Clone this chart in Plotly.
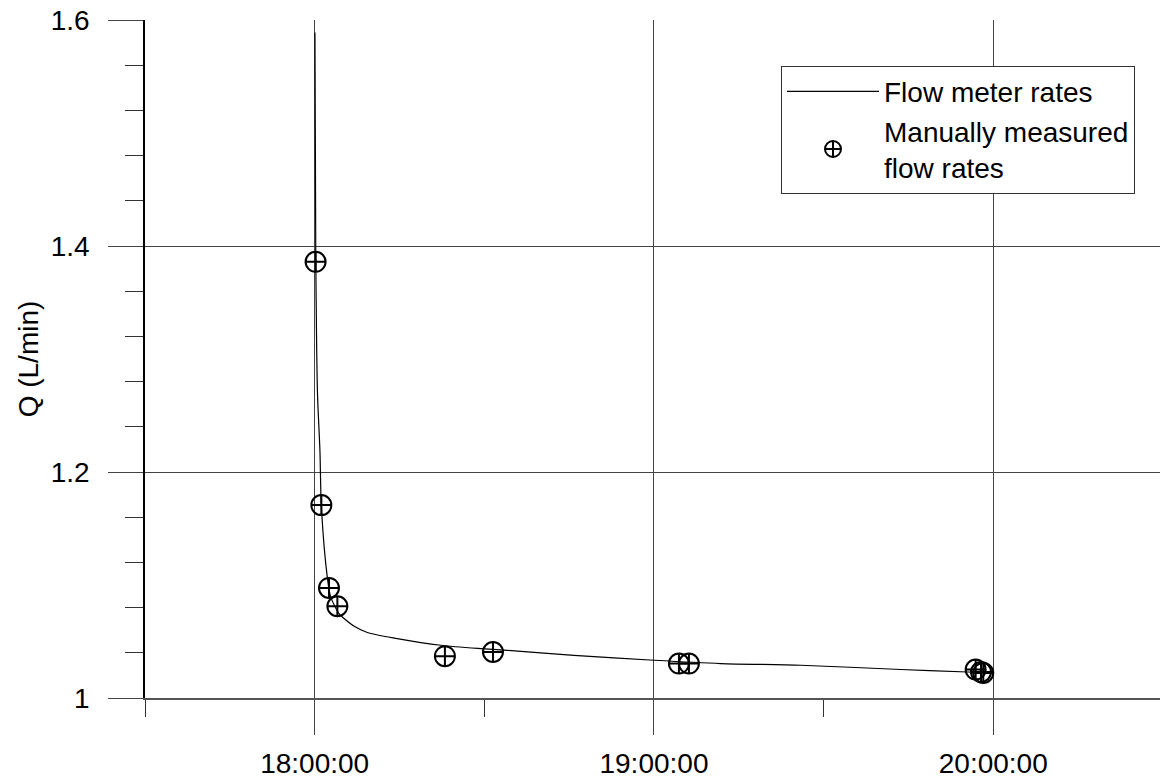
import plotly.graph_objects as go

# Flow meter readings (time, Q in L/min)
meter_time = [
    "2000-01-01 18:00:03", "2000-01-01 18:00:12", "2000-01-01 18:00:30",
    "2000-01-01 18:00:56", "2000-01-01 18:01:11", "2000-01-01 18:02:14",
    "2000-01-01 18:02:50", "2000-01-01 18:04:18", "2000-01-01 18:04:54",
    "2000-01-01 18:07:00", "2000-01-01 18:09:19", "2000-01-01 18:14:37",
    "2000-01-01 18:22:17", "2000-01-01 18:29:21", "2000-01-01 18:34:05",
    "2000-01-01 18:45:51", "2000-01-01 19:00:00", "2000-01-01 19:11:48",
    "2000-01-01 19:25:56", "2000-01-01 19:43:38", "2000-01-01 19:55:25",
    "2000-01-01 19:59:32",
]
meter_q = [
    1.589, 1.39, 1.27,
    1.219, 1.17, 1.107,
    1.0895, 1.0747, 1.0717,
    1.0635, 1.058, 1.0526,
    1.0467, 1.0437, 1.0422,
    1.0378, 1.0334, 1.0305,
    1.029, 1.0252, 1.023,
    1.0225,
]

# Manually measured flow rates
manual_time = [
    "2000-01-01 18:00:10", "2000-01-01 18:01:11", "2000-01-01 18:02:32",
    "2000-01-01 18:04:01", "2000-01-01 18:23:02", "2000-01-01 18:31:32",
    "2000-01-01 19:04:25", "2000-01-01 19:06:11", "2000-01-01 19:56:53",
    "2000-01-01 19:57:50", "2000-01-01 19:58:14",
]
manual_q = [
    1.386, 1.1707, 1.0974,
    1.0812, 1.037, 1.0407,
    1.0305, 1.0305, 1.0252,
    1.023, 1.0222,
]

x_range = ["2000-01-01 17:30:00", "2000-01-01 20:29:29"]
x_tick0 = "2000-01-01 18:00:00"
x_major_step_ms = 3600000
x_minor_step_ms = 1800000
y_range = [1.0, 1.6]
y_major_step = 0.2
y_minor_step = 0.04

FONT = "Liberation Sans, Arial, sans-serif"
GRID = "#444444"

fig = go.Figure()
fig.add_trace(go.Scatter(
    x=meter_time, y=meter_q, mode="lines", name="Flow meter rates",
    line=dict(color="black", width=1.2, shape="spline", smoothing=0.8),
))
fig.add_trace(go.Scatter(
    x=manual_time, y=manual_q, mode="markers",
    name="Manually measured<br>flow rates",
    marker=dict(symbol="circle-cross-open", size=20, color="black",
                line=dict(width=2, color="black")),
))

fig.update_layout(
    width=1160, height=781,
    margin=dict(l=145, r=0, t=20, b=83),
    plot_bgcolor="white", paper_bgcolor="white",
    font=dict(family=FONT, size=28, color="black"),
    showlegend=True,
    legend=dict(
        x=0.6266, y=0.9326, xanchor="left", yanchor="top",
        bgcolor="white", bordercolor="#333333", borderwidth=1,
        font=dict(family=FONT, size=28, color="black"),
        itemwidth=92,
    ),
    xaxis=dict(
        type="date", automargin=False, range=x_range,
        tickmode="linear", tick0=x_tick0, dtick=x_major_step_ms,
        tickformat="%H:%M:%S",
        showgrid=True, gridcolor=GRID, gridwidth=1,
        ticks="outside", ticklen=35, tickcolor=GRID, tickwidth=1,
        ticklabelstandoff=5,
        showline=True, linecolor="#555555", linewidth=1.5,
        zeroline=False,
        minor=dict(ticks="outside", ticklen=17, tickcolor="#333333",
                   dtick=x_minor_step_ms, tick0=x_tick0, showgrid=False),
        tickfont=dict(family=FONT, size=28),
    ),
    yaxis=dict(
        range=y_range, automargin=False,
        tickmode="linear", tick0=1.0, dtick=y_major_step,
        showgrid=True, gridcolor=GRID, gridwidth=1,
        ticks="outside", ticklen=35, tickcolor=GRID, tickwidth=1,
        ticklabelstandoff=13,
        showline=True, linecolor="black", linewidth=1.5,
        zeroline=False,
        minor=dict(ticks="outside", ticklen=18, tickcolor="#333333",
                   dtick=y_minor_step, tick0=1.0, showgrid=False),
        title=dict(text="Q (L/min)", standoff=4, font=dict(family=FONT, size=28)),
        tickfont=dict(family=FONT, size=28),
    ),
)

fig.write_html("out.html", config={"displayModeBar": False},
               post_script="document.body.style.margin='0';")
